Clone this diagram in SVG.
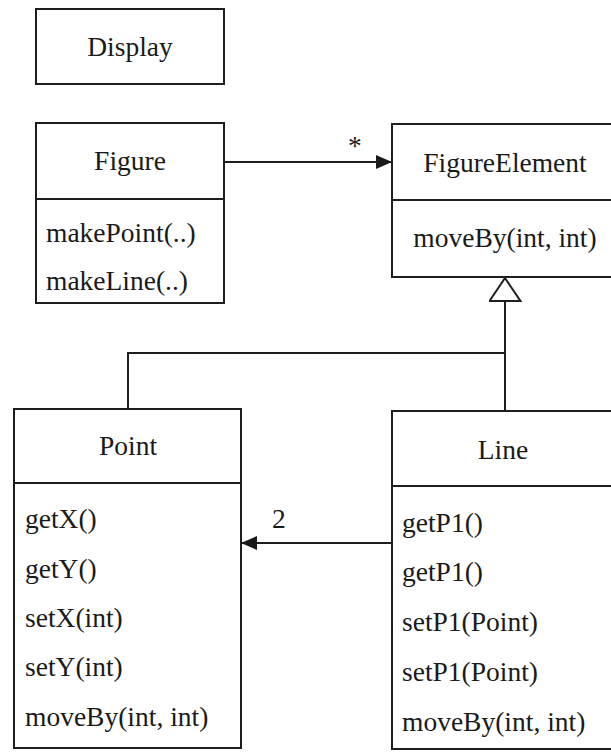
<svg xmlns="http://www.w3.org/2000/svg" width="611" height="753" viewBox="0 0 611 753">
  <style>
    .box { fill: #ffffff; stroke: #1e1e1e; stroke-width: 2; }
    .div { stroke: #1e1e1e; stroke-width: 2; }
    .t { font-family: "Liberation Serif", "Times New Roman", serif; font-size: 27.5px; fill: #1a1a1a; }
    .c { text-anchor: middle; }
    .edge { fill: none; stroke: #1e1e1e; stroke-width: 2; }
  </style>
  <defs>
    <marker id="arrowFilled" markerUnits="userSpaceOnUse" markerWidth="18" markerHeight="16" refX="16" refY="7" orient="auto">
      <path d="M0,0 L16,7 L0,14 z" fill="#1a1a1a"/>
    </marker>
    <marker id="inherit" markerUnits="userSpaceOnUse" markerWidth="28" markerHeight="36" refX="24" refY="16.5" orient="auto">
      <path d="M1,1 L24,16.5 L1,32 z" fill="#ffffff" stroke="#1e1e1e" stroke-width="2"/>
    </marker>
  </defs>

  <rect width="611" height="753" fill="#ffffff"/>

  <!-- connectors -->
  <g id="connectors">
    <!-- Figure -> FigureElement association -->
    <line class="edge" x1="224" y1="162" x2="392" y2="162" marker-end="url(#arrowFilled)"/>
    <text class="t" x="348" y="155">*</text>
    <!-- generalization: Point and Line -> FigureElement -->
    <polyline class="edge" points="128,409 128,353 505,353"/>
    <line class="edge" x1="505" y1="411" x2="505" y2="278" marker-end="url(#inherit)"/>
    <!-- Line -> Point association -->
    <line class="edge" x1="392" y1="543" x2="241" y2="543" marker-end="url(#arrowFilled)"/>
    <text class="t" x="272" y="528">2</text>
  </g>

  <!-- Display -->
  <g id="display">
    <rect class="box" x="36" y="9" width="188" height="75"/>
    <text class="t c" x="130" y="56">Display</text>
  </g>

  <!-- Figure -->
  <g id="figure">
    <rect class="box" x="36" y="123" width="188" height="180"/>
    <line class="div" x1="36" y1="199" x2="224" y2="199"/>
    <text class="t c" x="130" y="170">Figure</text>
    <text class="t" x="46" y="242">makePoint(..)</text>
    <text class="t" x="46" y="290">makeLine(..)</text>
  </g>

  <!-- FigureElement -->
  <g id="figure-element">
    <rect class="box" x="392" y="124" width="230" height="153"/>
    <line class="div" x1="392" y1="200" x2="622" y2="200"/>
    <text class="t c" x="505" y="172">FigureElement</text>
    <text class="t c" x="505" y="247">moveBy(int, int)</text>
  </g>

  <!-- Point -->
  <g id="point">
    <rect class="box" x="14" y="409" width="227" height="339"/>
    <line class="div" x1="14" y1="483" x2="241" y2="483"/>
    <text class="t c" x="128" y="455">Point</text>
    <text class="t" x="25" y="528">getX()</text>
    <text class="t" x="25" y="578">getY()</text>
    <text class="t" x="25" y="627">setX(int)</text>
    <text class="t" x="25" y="676">setY(int)</text>
    <text class="t" x="25" y="726">moveBy(int, int)</text>
  </g>

  <!-- Line -->
  <g id="line">
    <rect class="box" x="392" y="411" width="230" height="338"/>
    <line class="div" x1="392" y1="486" x2="622" y2="486"/>
    <text class="t c" x="503" y="459">Line</text>
    <text class="t" x="402" y="532">getP1()</text>
    <text class="t" x="402" y="581">getP1()</text>
    <text class="t" x="402" y="631">setP1(Point)</text>
    <text class="t" x="402" y="681">setP1(Point)</text>
    <text class="t" x="402" y="731">moveBy(int, int)</text>
  </g>
</svg>
